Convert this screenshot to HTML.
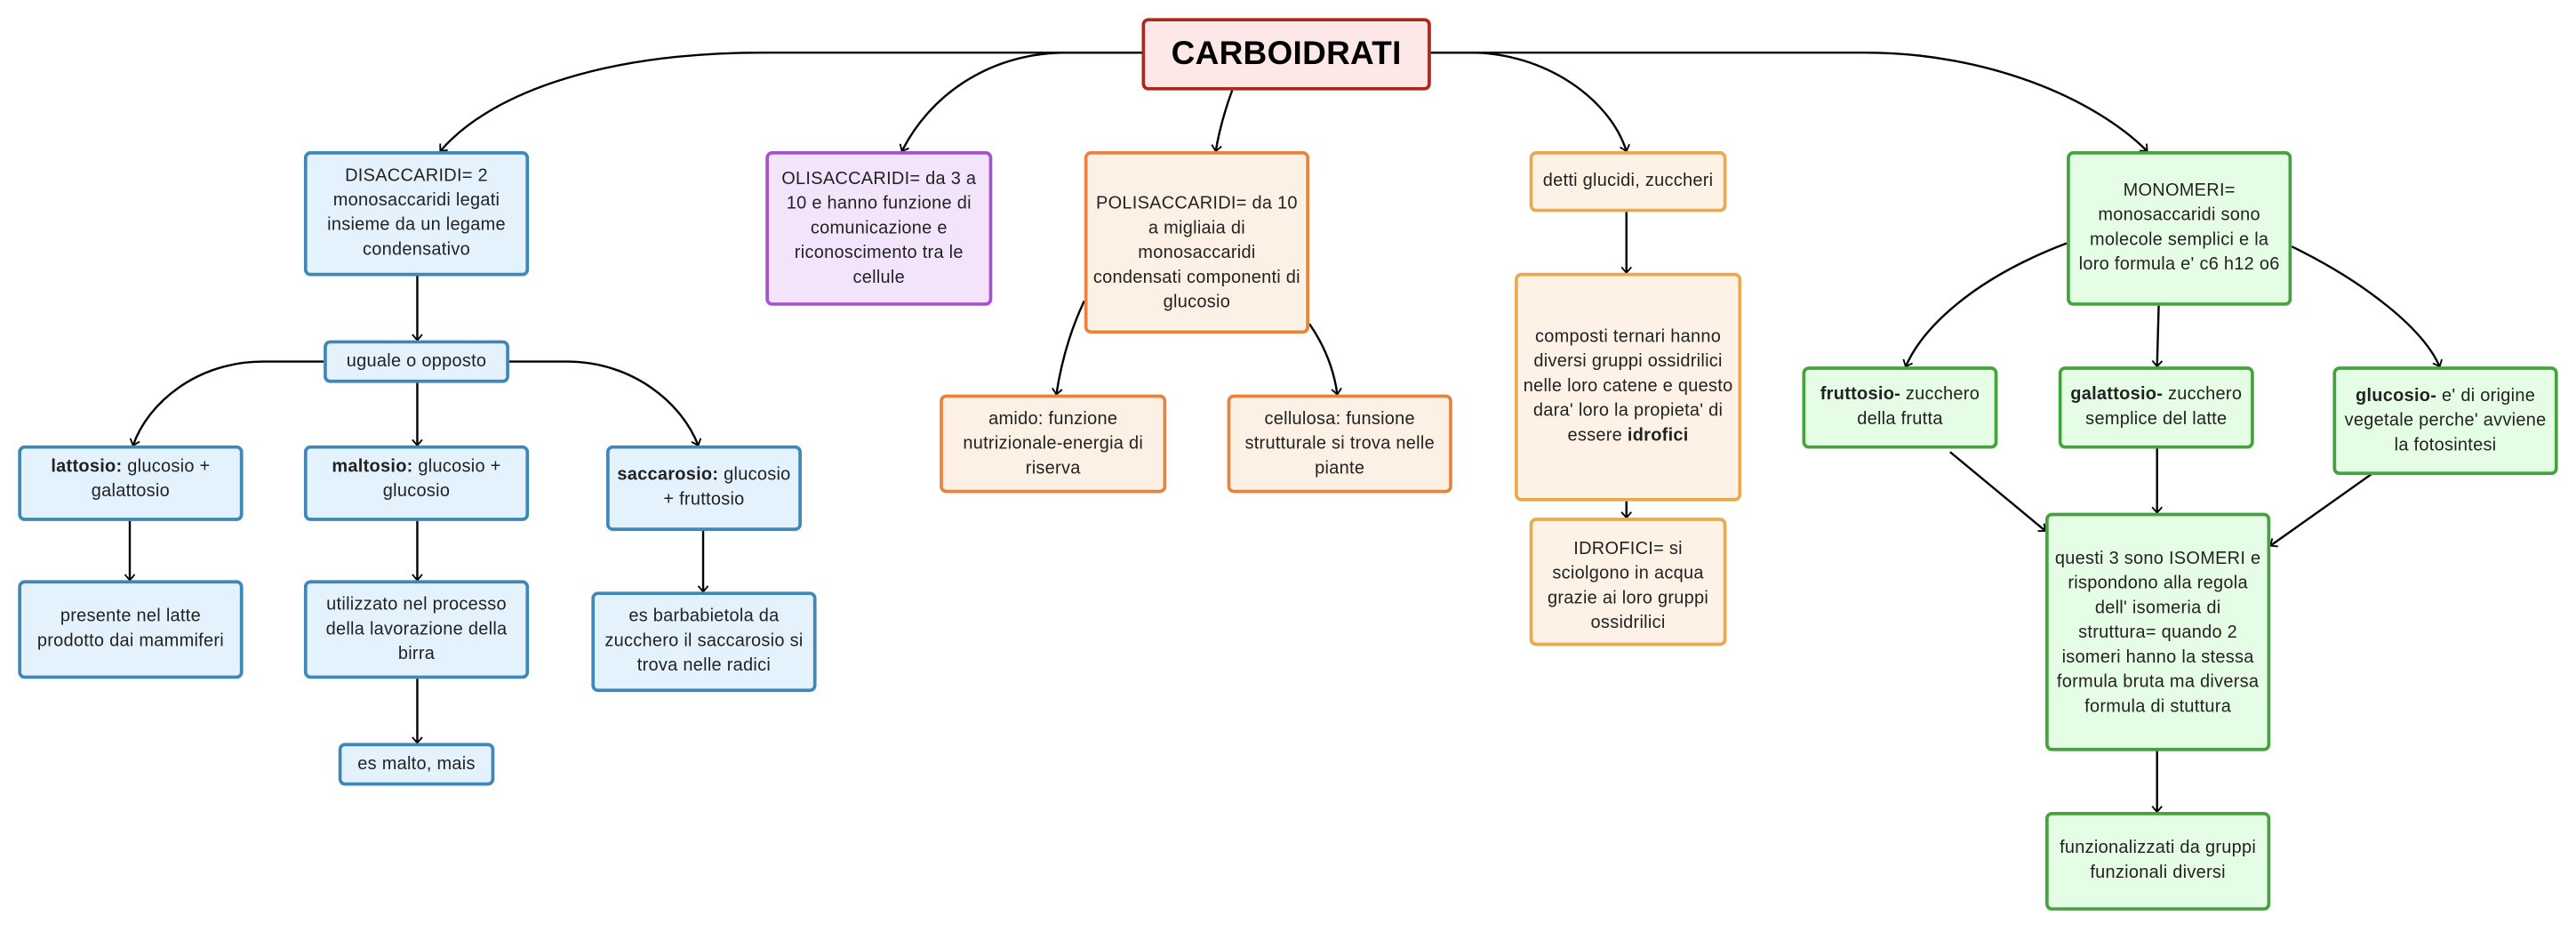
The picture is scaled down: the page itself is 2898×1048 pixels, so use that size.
<!DOCTYPE html>
<html><head><meta charset="utf-8"><style>
html,body{margin:0;padding:0;background:#fff;width:2898px;height:1047px;overflow:hidden}
#w{position:absolute;left:0;top:0;width:1568px;height:567px;transform:scale(1.84821);transform-origin:0 0;font-family:"Liberation Sans",sans-serif}
.n{position:absolute;box-sizing:border-box;border:2px solid;border-radius:4px;display:flex;align-items:center;justify-content:center;text-align:center;font-size:10.8px;line-height:15px;letter-spacing:0.15px;color:#222;padding:0 3px}
.b{border-color:#3f87b6;background:#e4f2fd}
.p{border-color:#a653c9;background:#f3e4fb}
.o{border-color:#e8823f;background:#fdf0e4}
.y{border-color:#eaaa4b;background:#fdf2e5}
.g{border-color:#45a33e;background:#e4fde4}
svg{position:absolute;left:0;top:0}
</style></head><body><div id="w">
<svg width="1568" height="567" viewBox="0 0 1568 567">
<defs><marker id="a" markerWidth="8" markerHeight="8" refX="4" refY="4" orient="auto" markerUnits="userSpaceOnUse"><path d="M0.5,1 L4,4 L0.5,7" fill="none" stroke="#000" stroke-width="1"/></marker></defs>
<g fill="none" stroke="#000" stroke-width="1.3" marker-end="url(#a)">
<path d="M695,32 L465,32 C360,32 295,60 268,92"/>
<path d="M695,32 L650,32 C600,32 565,60 549,92"/>
<path d="M750,55 C746,66 742,80 740,92"/>
<path d="M871,32 L895,32 C940,32 980,60 990,92"/>
<path d="M871,32 L1135,32 C1210,32 1275,60 1307,92"/>
<path d="M254,168 L254,207"/>
<path d="M197,220 L160,220 C120,220 90,245 81,271"/>
<path d="M254,233 L254,271"/>
<path d="M310,220 L345,220 C385,220 415,245 425,271"/>
<path d="M79,317 L79,353"/>
<path d="M254,317 L254,353"/>
<path d="M428,323 L428,360"/>
<path d="M254,413 L254,452"/>
<path d="M660,183 C652,200 646,220 643,240"/>
<path d="M797,197 C806,210 812,225 814,240"/>
<path d="M990,129 L990,166"/>
<path d="M990,305 L990,315"/>
<path d="M1258,148 C1200,170 1170,200 1160,223"/>
<path d="M1314,186 L1313,223"/>
<path d="M1395,150 C1440,172 1475,200 1485,223"/>
<path d="M1187,275 L1245,323"/>
<path d="M1313,273 L1313,312"/>
<path d="M1447,286 L1382,332"/>
<path d="M1313,457 L1313,494"/>
</g></svg>
<div class="n" style="left:695px;top:11px;width:176px;height:44px;border-color:#b02619;background:#fde7e7;border-width:2.5px;font-size:20px;font-weight:bold;color:#000">CARBOIDRATI</div>
<div class="n b" style="left:185px;top:92px;width:137px;height:76px">DISACCARIDI= 2 monosaccaridi legati insieme da un legame condensativo</div>
<div class="n p" style="left:466px;top:92px;width:138px;height:94px">OLISACCARIDI= da 3 a 10 e hanno funzione di comunicazione e riconoscimento tra le cellule</div>
<div class="n o" style="left:660px;top:92px;width:137px;height:111px;align-items:flex-start;padding-top:23px">POLISACCARIDI= da 10 a migliaia di monosaccaridi condensati componenti di glucosio</div>
<div class="n y" style="left:931px;top:92px;width:120px;height:37px">detti glucidi, zuccheri</div>
<div class="n g" style="left:1258px;top:92px;width:137px;height:94px">MONOMERI= monosaccaridi sono molecole semplici e la loro formula e' c6 h12 o6</div>
<div class="n b" style="left:197px;top:207px;width:113px;height:26px">uguale o opposto</div>
<div class="n b" style="left:11px;top:271px;width:137px;height:46px;align-items:flex-start;padding-top:4px"><span><b>lattosio:</b> glucosio + galattosio</span></div>
<div class="n b" style="left:185px;top:271px;width:137px;height:46px;align-items:flex-start;padding-top:4px"><span><b>maltosio:</b> glucosio + glucosio</span></div>
<div class="n b" style="left:369px;top:271px;width:119px;height:52px;padding:0 1px"><span><b>saccarosio:</b> glucosio + fruttosio</span></div>
<div class="n b" style="left:11px;top:353px;width:137px;height:60px">presente nel latte prodotto dai mammiferi</div>
<div class="n b" style="left:185px;top:353px;width:137px;height:60px">utilizzato nel processo della lavorazione della birra</div>
<div class="n b" style="left:360px;top:360px;width:137px;height:61px">es barbabietola da zucchero il saccarosio si trova nelle radici</div>
<div class="n b" style="left:206px;top:452px;width:95px;height:26px">es malto, mais</div>
<div class="n o" style="left:572px;top:240px;width:138px;height:60px">amido: funzione nutrizionale-energia di riserva</div>
<div class="n o" style="left:747px;top:240px;width:137px;height:60px">cellulosa: funsione strutturale si trova nelle piante</div>
<div class="n y" style="left:922px;top:166px;width:138px;height:139px"><span>composti ternari hanno diversi gruppi ossidrilici nelle loro catene e questo dara' loro la propieta' di essere <b>idrofici</b></span></div>
<div class="n y" style="left:931px;top:315px;width:120px;height:78px;align-items:flex-start;padding-top:10px">IDROFICI= si sciolgono in acqua grazie ai loro gruppi ossidrilici</div>
<div class="n g" style="left:1097px;top:223px;width:119px;height:50px"><span><b>fruttosio-</b> zucchero della frutta</span></div>
<div class="n g" style="left:1253px;top:223px;width:119px;height:50px"><span><b>galattosio-</b> zucchero semplice del latte</span></div>
<div class="n g" style="left:1420px;top:223px;width:137px;height:66px"><span><b>glucosio-</b> e' di origine vegetale perche' avviene la fotosintesi</span></div>
<div class="n g" style="left:1245px;top:312px;width:137px;height:145px;align-items:flex-start;padding-top:19px">questi 3 sono ISOMERI e rispondono alla regola dell' isomeria di struttura= quando 2 isomeri hanno la stessa formula bruta ma diversa formula di stuttura</div>
<div class="n g" style="left:1245px;top:494px;width:137px;height:60px">funzionalizzati da gruppi funzionali diversi</div>
</div></body></html>
